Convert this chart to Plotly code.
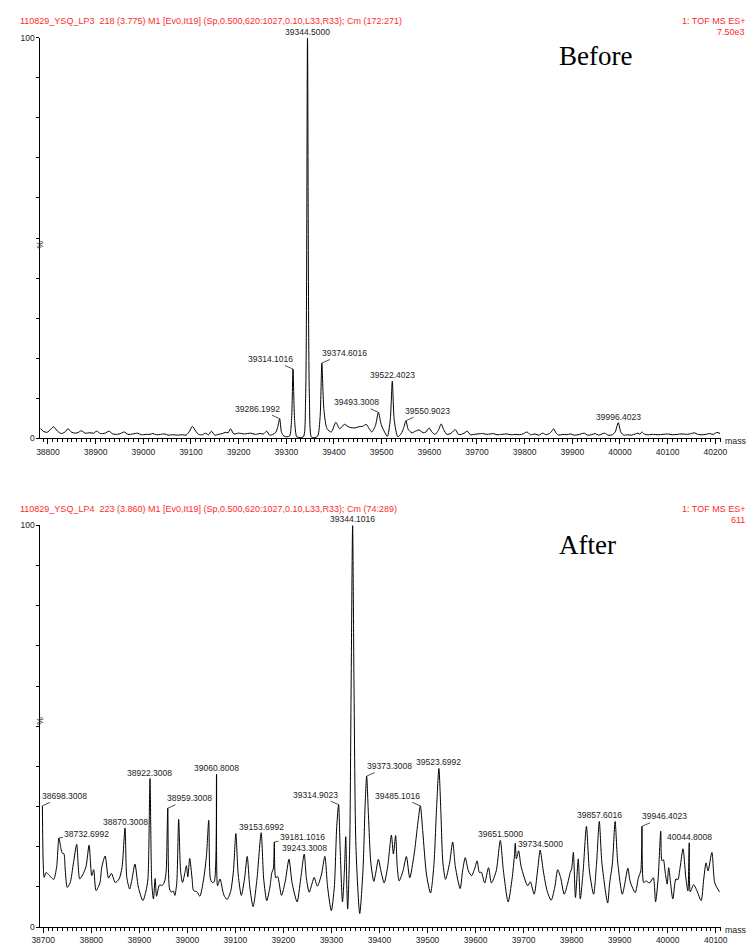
import plotly.graph_objects as go

# ---------------- data ----------------
# "Before" deconvoluted spectrum: profile vertices (mass, relative intensity %)
before_mass = [38784, 38790, 38798, 38806, 38812, 38820, 38828, 38836, 38842, 38850,
               38858, 38864, 38870, 38878, 38888, 38896, 38902, 38910, 38920, 38928,
               38936, 38946, 38952, 38960, 38968, 38978, 38988, 38996, 39006, 39014,
               39020, 39028, 39036, 39045, 39052, 39062, 39072, 39082, 39090, 39097,
               39103, 39110, 39116, 39124, 39130, 39137, 39143, 39150, 39158, 39166,
               39172, 39178, 39183, 39190, 39200, 39212, 39225, 39235, 39245, 39252,
               39259, 39265, 39272, 39278, 39282, 39286.1992, 39290, 39295, 39301, 39307,
               39311, 39314.1016, 39317.5, 39322, 39329, 39336, 39340.5, 39344.5, 39348.5, 39353,
               39360, 39366, 39371, 39374.6016, 39379, 39385.6, 39394.4, 39404, 39412, 39421.9,
               39432, 39443.7, 39452, 39460, 39467.7, 39474, 39479.4, 39487, 39493.3008, 39499,
               39505.3, 39512, 39518, 39522.4023, 39526.5, 39534, 39541, 39546, 39550.9023, 39556,
               39563.6, 39571, 39578.6, 39587, 39593, 39599.7, 39606, 39612, 39619, 39625,
               39630, 39637, 39646, 39654.6, 39661, 39667, 39673, 39680, 39686, 39694,
               39702, 39712, 39720, 39728, 39734, 39742, 39752, 39762, 39772, 39782,
               39790, 39798, 39805, 39812, 39822, 39830, 39838, 39845, 39852, 39857,
               39861, 39866, 39872, 39880, 39888, 39896, 39904, 39912, 39918, 39925,
               39932, 39940, 39948, 39955, 39962, 39968, 39975, 39984, 39990, 39996.4023,
               40002, 40008, 40016, 40024, 40032, 40038, 40042, 40046, 40052, 40060,
               40070, 40080, 40090, 40100, 40110, 40120, 40130, 40140, 40150, 40156,
               40163, 40172, 40180, 40188, 40196, 40203, 40210]
before_int = [2.5, 1.8, 1.5, 2.3, 2.9, 1.8, 1.2, 1.6, 2.4, 1.5,
              1.3, 1.5, 1.9, 1.3, 1.4, 1.3, 1.8, 1.2, 1.3, 1.8,
              1.1, 1.0, 1.2, 1.6, 1.0, 1.1, 1.3, 0.9, 1.0, 1.0,
              1.2, 0.9, 1.0, 1.1, 0.8, 0.9, 0.8, 0.9, 0.8, 1.8,
              3.0, 1.8, 1.0, 0.9, 1.3, 0.9, 1.8, 0.8, 1.0, 1.2,
              1.5, 1.4, 2.4, 1.1, 1.3, 1.1, 1.3, 1.0, 1.2, 1.1,
              1.8, 0.8, 1.0, 1.5, 2.8, 4.9, 1.5, 0.6, 0.4, 0.6,
              4.5, 17.3, 4.5, 0.4, 0.2, 0.4, 10, 100, 10, 0.3,
              0.2, 0.6, 5.5, 18.8, 7.0, 2.4, 1.6, 4.0, 2.4, 3.5,
              2.8, 2.6, 2.9, 3.0, 3.5, 2.4, 1.6, 3.2, 6.5, 3.5,
              1.8, 0.5, 4.5, 14.3, 4.5, 0.4, 1.2, 2.5, 4.4, 2.2,
              1.4, 1.8, 2.1, 1.4, 1.6, 2.6, 1.5, 1.0, 2.0, 3.6,
              2.2, 1.0, 1.3, 2.2, 1.0, 1.0, 1.3, 1.8, 0.9, 1.0,
              1.1, 1.2, 1.0, 1.1, 1.2, 0.9, 1.0, 1.1, 0.9, 1.0,
              0.9, 1.2, 1.6, 0.9, 1.1, 0.8, 1.3, 0.9, 1.2, 1.8,
              2.4, 1.3, 0.8, 1.0, 0.9, 1.1, 0.8, 0.9, 1.1, 1.3,
              0.8, 0.9, 1.2, 0.8, 1.1, 1.3, 0.8, 0.9, 1.6, 3.9,
              1.5, 0.8, 0.9, 0.8, 1.1, 1.3, 1.0, 1.6, 1.0, 0.9,
              1.0, 0.9, 1.0, 1.1, 0.9, 1.0, 1.1, 1.0, 1.2, 1.4,
              1.0, 0.9, 1.0, 1.2, 1.0, 1.5, 1.2]
before_labels = [39286.1992, 39314.1016, 39344.5000, 39374.6016, 39493.3008,
                 39522.4023, 39550.9023, 39996.4023]

# "After" deconvoluted spectrum
after_mass = [38698.3008, 38700, 38702, 38706, 38712, 38718, 38722, 38728, 38732.6992, 38737,
              38740, 38743, 38746, 38750, 38756, 38763, 38769.7, 38776, 38782, 38789,
              38795.5, 38801, 38805, 38810, 38818, 38822, 38829, 38836, 38842, 38850,
              38858, 38864, 38870.3008, 38874, 38880, 38885, 38891, 38898, 38907.5, 38914,
              38918, 38922.3008, 38926, 38929.5, 38933, 38936, 38942, 38948, 38953, 38956,
              38959.3008, 38963, 38967, 38971, 38974, 38978, 38982, 38986, 38990, 38995,
              38998, 39001, 39005, 39010, 39013, 39020, 39026, 39034, 39040, 39044.6,
              39048, 39052, 39056, 39060.8008, 39063, 39068, 39076, 39082.7, 39090, 39096,
              39101, 39106, 39112.5, 39119, 39124.7, 39130, 39137, 39145, 39153.6992, 39159,
              39165.4, 39172, 39176, 39179, 39181.1016, 39184, 39188, 39196, 39204, 39211.6,
              39218, 39228.5, 39236, 39243.3008, 39248, 39253.7, 39260, 39264, 39270.7, 39279,
              39286.3, 39292, 39299.8, 39306, 39311, 39314.9023, 39318, 39323, 39327, 39329.8,
              39332, 39333.8, 39338, 39341, 39344.1016, 39347, 39351, 39358.9, 39366, 39370,
              39373.3008, 39377, 39382, 39388.2, 39393, 39397.6, 39403, 39409.8, 39417, 39424.8,
              39429, 39433.6, 39437, 39441, 39449, 39456, 39463, 39472, 39480, 39485.1016,
              39490, 39498, 39506.3, 39513, 39519, 39523.6992, 39528, 39532, 39537.5, 39546,
              39552.4, 39558, 39568, 39573, 39578.6, 39585, 39591.8, 39598, 39603.3, 39608,
              39612, 39619, 39627, 39633, 39643, 39651.5, 39658, 39667.8, 39676, 39681,
              39682.7, 39685, 39689.6, 39695, 39708.6, 39714, 39722, 39729, 39734.5, 39741,
              39749, 39757.4, 39765, 39771, 39777, 39784.5, 39792, 39797, 39800, 39803.6,
              39808, 39813.8, 39818, 39824, 39830.8, 39837, 39845.7, 39852, 39857.6016, 39863,
              39875, 39879, 39885, 39890.5, 39896, 39905.5, 39911, 39917, 39922, 39932.4,
              39939, 39944, 39946.4023, 39950, 39955, 39962, 39970, 39974.7, 39980, 39985.5,
              39988, 39991, 39995, 39999, 40002, 40010.6, 40017, 40021, 40026, 40031.8,
              40038, 40042, 40044.8008, 40047, 40054, 40061, 40069.6, 40075, 40079.8, 40084,
              40092, 40098, 40107.7]
after_int = [30.2, 16, 12.4, 13.6, 13.0, 12.2, 11.9, 15, 22.2, 19.5,
             18.4, 18.3, 14, 9.9, 11, 16, 20.6, 12, 13, 15,
             20.4, 12.8, 14.3, 9.1, 11, 15, 17.7, 12.2, 13.4, 11.1,
             12, 14.8, 24.7, 12.4, 9.5, 12, 15.7, 10, 6.6, 9,
             12, 37, 11, 7, 12.1, 7.7, 10.5, 10.4, 11.5, 14,
             29.6, 9.5, 8.7, 9, 7.9, 11, 26.8, 14, 11.1, 13.6,
             15.3, 12.5, 17.1, 12, 9.1, 8.8, 7.7, 12, 18, 26.6,
             12, 11.1, 11.3, 38.1, 10.3, 12, 8, 6.9, 8.8, 14,
             23.3, 13, 7.9, 12, 17.6, 10, 5.1, 12, 23.5, 12,
             6.6, 10, 13.6, 14.5, 21.2, 12.3, 12.6, 7.9, 11.5, 16.9,
             11.1, 6.3, 12, 18.2, 12, 8.7, 11, 12.4, 10.2, 13,
             17.6, 10, 4.1, 10, 25, 30.5, 20, 6.3, 14, 22.5,
             10, 4.5, 20, 60, 100, 60, 20, 3.4, 15, 30,
             37.6, 28, 16, 11.4, 14, 16.9, 14, 11, 15, 22.9,
             18.2, 22.8, 15, 11.5, 14, 17.6, 12.3, 18, 26, 30.2,
             24, 13, 8.5, 15, 30, 39.5, 28, 16, 11.9, 16,
             21.2, 15, 9.6, 14, 17.3, 14, 12.8, 14.5, 16.5, 13.6,
             13.7, 11, 14.8, 11, 14, 21.6, 14, 6.3, 12, 18,
             20.9, 17, 19, 15, 10.3, 11.3, 8.2, 14, 19.2, 14,
             9, 6.7, 10, 14.3, 12.4, 8.2, 11, 13.6, 14.5, 18.6,
             7.4, 17, 7, 14, 25.1, 14, 8.2, 16, 26.3, 16,
             6, 10.8, 16, 26.3, 16, 8.2, 11, 14.7, 11.3, 8.6,
             12.3, 14, 25.1, 11.1, 11.5, 11, 12.3, 6.3, 12, 23.9,
             16.5, 16.8, 13.4, 10.7, 14.8, 7, 12, 11.8, 15, 19.5,
             12, 9, 21, 8.8, 10.6, 9, 6.6, 12, 16, 14,
             18.6, 11, 8.8]
after_labels = [38698.3008, 38732.6992, 38870.3008, 38922.3008, 38959.3008, 39060.8008,
                39153.6992, 39181.1016, 39243.3008, 39314.9023, 39344.1016, 39373.3008,
                39485.1016, 39523.6992, 39651.5000, 39734.5000, 39857.6016, 39946.4023,
                40044.8008]

before_header = "110829_YSQ_LP3  218 (3.775) M1 [Ev0,It19] (Sp,0.500,620:1027,0.10,L33,R33); Cm (172:271)"
after_header = "110829_YSQ_LP4  223 (3.860) M1 [Ev0,It19] (Sp,0.500,620:1027,0.10,L33,R33); Cm (74:289)"
before_scale = "7.50e3"
after_scale = "611"
mode_text = "1: TOF MS ES+"

# ---------------- styling ----------------
W, H = 753, 946
FONT = "Liberation Sans, Arial, sans-serif"
RED = "#ff2b2b"
LABEL_COLOR = "#222222"

# leader-line offsets (px) for labels that are pushed aside; others sit right above the peak
before_offsets = {39286.1992: (-22, -10), 39314.1016: (-23, -10), 39374.6016: (23, -10),
                  39493.3008: (-22, -10), 39550.9023: (22, -10)}
after_offsets = {38698.3008: (22, -10), 38732.6992: (28, -4), 38959.3008: (22, -10),
                 39181.1016: (28, -5), 39314.9023: (-23, -10), 39373.3008: (23, -10),
                 39485.1016: (-23, -10), 39946.4023: (23, -10)}


def py(px):
    return 1 - px / H


def px_x(px):
    return px / W


panels = [
    dict(mass=before_mass, inten=before_int, labels=before_labels, offsets=before_offsets,
         xr=[38784, 40211], ydom=[py(438), py(33)], axis_y=438, header=before_header,
         scale=before_scale, head_y=16, title="Before", title_xy=(599, 52), xa="x", ya="y"),
    dict(mass=after_mass, inten=after_int, labels=after_labels, offsets=after_offsets,
         xr=[38694, 40110], ydom=[py(932), py(526)], axis_y=932, header=after_header,
         scale=after_scale, head_y=509, title="After", title_xy=(591, 546), xa="x2", ya="y2"),
]

fig = go.Figure()
annotations = []
layout_axes = {}

for i, p in enumerate(panels):
    fig.add_trace(go.Scatter(
        x=p["mass"], y=p["inten"], mode="lines",
        line=dict(color="black", width=1, shape="spline", smoothing=0.7),
        xaxis=p["xa"], yaxis=p["ya"], showlegend=False, hoverinfo="x+y"))

    xname = "xaxis" if i == 0 else "xaxis2"
    yname = "yaxis" if i == 0 else "yaxis2"
    layout_axes[xname] = dict(
        domain=[px_x(32), px_x(727)], range=p["xr"], anchor=p["ya"],
        showline=True, linecolor="black", linewidth=1,
        ticks="outside", ticklen=5, tickwidth=1, tickcolor="black",
        tick0=0, dtick=100, tickformat="d",
        tickfont=dict(family=FONT, size=8.5, color=LABEL_COLOR),
        minor=dict(ticks="outside", dtick=10, ticklen=3, tickwidth=1, tickcolor="black"),
        showgrid=False, zeroline=False, fixedrange=True)
    layout_axes[yname] = dict(
        domain=p["ydom"], range=[0, 100], anchor=p["xa"],
        showline=True, linecolor="black", linewidth=1,
        ticks="outside", ticklen=3, tickwidth=1, tickcolor="black",
        tickmode="array", tickvals=list(range(0, 101, 10)),
        ticktext=["0"] + [""] * 9 + ["100"],
        tickfont=dict(family=FONT, size=8.5, color=LABEL_COLOR),
        showgrid=False, zeroline=False, fixedrange=True)

    # peak labels
    for m in p["labels"]:
        idx = p["mass"].index(m)
        h = p["inten"][idx]
        txt = f"{m:.4f}"
        if m in p["offsets"]:
            ax, ay = p["offsets"][m]
            annotations.append(dict(
                x=m, y=h, xref=p["xa"], yref=p["ya"], text=txt, showarrow=True,
                ax=ax, ay=ay, arrowhead=0, arrowwidth=0.8, arrowcolor="#222",
                standoff=0, startstandoff=0,
                font=dict(family=FONT, size=8.5, color=LABEL_COLOR)))
        else:
            annotations.append(dict(
                x=m, y=h, xref=p["xa"], yref=p["ya"], text=txt, showarrow=False,
                yanchor="bottom", yshift=0, borderpad=0,
                font=dict(family=FONT, size=8.5, color=LABEL_COLOR)))

    # "%" axis title
    y_mid = (p["ydom"][0] + p["ydom"][1]) / 2
    annotations.append(dict(x=px_x(25), y=y_mid, xref="paper", yref="paper", text="%",
                            showarrow=False, textangle=-90,
                            font=dict(family=FONT, size=8.5, color=LABEL_COLOR)))
    # "mass" axis title
    annotations.append(dict(x=px_x(729), y=py(p["axis_y"] + 3), xref="paper", yref="paper",
                            text="mass", showarrow=False, xanchor="left", yanchor="middle",
                            font=dict(family=FONT, size=8.8, color=LABEL_COLOR)))
    # run header lines
    annotations.append(dict(x=px_x(10), y=py(p["head_y"]), xref="paper", yref="paper",
                            text=p["header"], showarrow=False, xanchor="left", yanchor="middle",
                            borderpad=0, font=dict(family=FONT, size=9, color=RED)))
    annotations.append(dict(x=px_x(753), y=py(p["head_y"]), xref="paper", yref="paper",
                            text=mode_text, showarrow=False, xanchor="right", yanchor="middle",
                            borderpad=0, font=dict(family=FONT, size=9, color=RED)))
    annotations.append(dict(x=px_x(753), y=py(p["head_y"] + 11), xref="paper", yref="paper",
                            text=p["scale"], showarrow=False, xanchor="right", yanchor="middle",
                            borderpad=0, font=dict(family=FONT, size=9, color=RED)))
    # panel title
    tx, ty = p["title_xy"]
    annotations.append(dict(x=px_x(tx), y=py(ty), xref="paper", yref="paper",
                            text=p["title"], showarrow=False, xanchor="center", yanchor="middle",
                            font=dict(family="Liberation Serif, Times New Roman, serif",
                                      size=27, color="black")))

fig.update_layout(
    width=W, height=H, margin=dict(l=0, r=0, t=0, b=0),
    paper_bgcolor="white", plot_bgcolor="white",
    annotations=annotations, **layout_axes)

fig.write_html("out.html")
